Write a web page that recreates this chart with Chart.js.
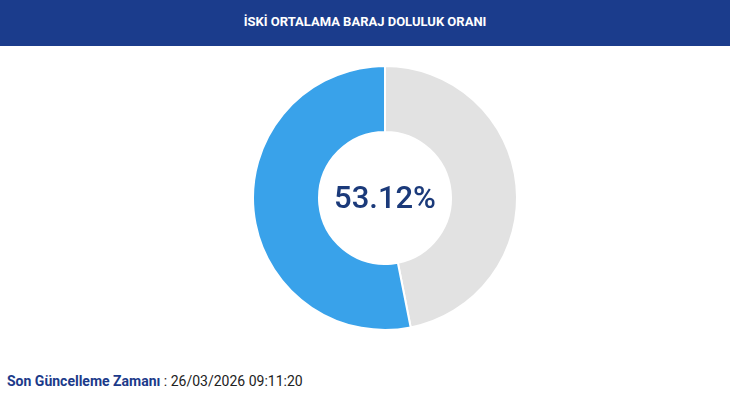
<!DOCTYPE html>
<html><head><meta charset="utf-8">
<script src="https://cdn.jsdelivr.net/npm/chart.js@4"></script>
<style>
body{margin:0;width:730px;height:410px;background:#fff;font-family:Roboto,"Noto Sans",sans-serif;position:relative;overflow:hidden}
#hdr{position:absolute;left:0;top:0;width:730px;height:46px;background:#1b3c8c;color:#fff;font-weight:bold;font-size:13px;text-align:center;line-height:44px}
#wrap{position:absolute;left:250px;top:63px;width:270px;height:270px}
#ctr{position:absolute;left:250px;top:63px;width:270px;height:270px;line-height:270px;text-align:center;font-size:31px;font-weight:500;color:#1b3a7a;pointer-events:none}
#ft{position:absolute;left:7px;top:373px;font-size:14px;color:#222}
#ft b{color:#1b3a8a}
</style></head><body>
<div id="hdr">İSKİ ORTALAMA BARAJ DOLULUK ORANI</div>
<div id="wrap"><canvas id="c"></canvas></div>
<div id="ctr">53.12%</div>
<div id="ft"><b>Son Güncelleme Zamanı</b> : 26/03/2026 09:11:20</div>
<script>
const labels=["Boş","Dolu"];
const values=[46.88,53.12];
const colors=["#e2e2e2","#39a2ea"];
new Chart(document.getElementById('c'),{type:'doughnut',
data:{labels:labels,datasets:[{data:values,backgroundColor:colors,borderColor:'#fff',borderWidth:2}]},
options:{responsive:true,maintainAspectRatio:false,animation:false,cutout:'50%',
plugins:{legend:{display:false},tooltip:{enabled:false}},layout:{padding:2}}});
</script></body></html>
